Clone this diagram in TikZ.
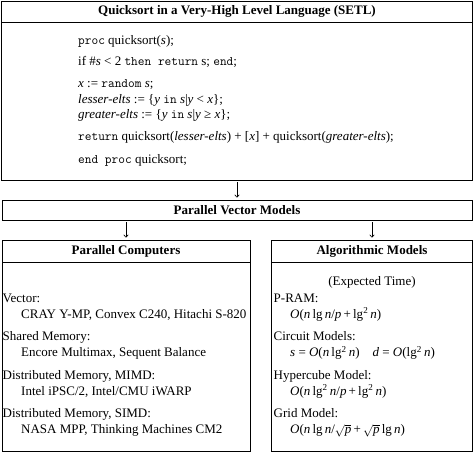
\documentclass[tikz,border=0pt]{standalone}
\usepackage{fontspec}
\setmainfont{Liberation Serif}
\usetikzlibrary{arrows.meta}

\newcommand{\diagsize}{\fontsize{13}{15.6}\selectfont}
\newcommand{\vi}[1]{\textit{#1}}
\newcommand{\sq}{lg\textsuperscript{2}\,}
\newcommand{\rootp}{\smash{$\sqrt{\mbox{\vi{p}}}$}}

\tikzset{
	box/.style={draw, line width=.9pt, inner sep=0pt},
	head/.style={box, font=\diagsize\bfseries},
	line/.style={anchor=base west, inner sep=0pt},
	arr/.style={-{To[length=3pt,width=5pt]}, line width=.6pt, shorten >=2pt, shorten <=2pt},
}

\begin{document}
\begin{tikzpicture}[x=1pt,y=-1pt,font=\diagsize]
		\useasboundingbox (0,0) rectangle (474,453);
		% top box
		\node[head, minimum width=471pt, minimum height=21pt] (setlhead) at (237,11.5) {Quicksort in a Very-High Level Language (SETL)};
		\node[box, minimum width=471pt, minimum height=158pt] (setl) at (237,101) {};
		\node[line] (proc) at (78,44) {\texttt{proc} quicksort(\vi{s});};
		\node[line] (iftest) at (78,65.7) {if \#\vi{s} < 2 \texttt{then return} s; \texttt{end};};
		\node[line] (pick) at (78,87.7) {\vi{x} := \texttt{random} \vi{s};};
		\node[line] (lesser) at (78,103.3) {\vi{lesser-elts} := \{\vi{y} \texttt{in} \vi{s}|\vi{y} < \vi{x}\};};
		\node[line] (greater) at (78,118.8) {\vi{greater-elts} := \{\vi{y} \texttt{in} \vi{s}|\vi{y} ≥ \vi{x}\};};
		\node[line] (ret) at (78,140.3) {\texttt{return} quicksort(\vi{lesser-elts}) + [\vi{x}] + quicksort(\vi{greater-elts});};
		\node[line] (endproc) at (78,163.3) {\texttt{end proc} quicksort;};
		% middle box
		\node[head, minimum width=470pt, minimum height=20pt] (pvm) at (237,210) {Parallel Vector Models};
		% lower boxes
		\node[head, minimum width=248pt, minimum height=22pt] (comphead) at (126,251) {Parallel Computers};
		\node[box, minimum width=248pt, minimum height=189pt] (comp) at (126,356.5) {};
		\node[head, minimum width=201pt, minimum height=22pt] (algohead) at (372,251) {Algorithmic Models};
		\node[box, minimum width=201pt, minimum height=189pt] (algo) at (372,356.5) {};
		% arrows
		\draw[arr] (setl.south) -- (pvm.north);
		\draw[arr] (pvm.south -| comphead.north) -- (comphead.north);
		\draw[arr] (pvm.south -| algohead.north) -- (algohead.north);
		% computers
		\node[line] (vec) at (2.5,302) {Vector:};
		\node[line] (vecm) at (21,318) {CRAY Y-MP, Convex C240, Hitachi S-820};
		\node[line] (shm) at (2.5,340.5) {Shared Memory:};
		\node[line] (shmm) at (21,356.5) {Encore Multimax, Sequent Balance};
		\node[line] (mimd) at (2.5,379) {Distributed Memory, MIMD:};
		\node[line] (mimdm) at (21,395) {Intel iPSC/2, Intel/CMU iWARP};
		\node[line] (simd) at (2.5,417.5) {Distributed Memory, SIMD:};
		\node[line] (simdm) at (21,433.5) {NASA MPP, Thinking Machines CM2};
		% models
		\node[anchor=base, inner sep=0pt] (exptime) at (372,285) {(Expected Time)};
		\node[line] (pram) at (273.5,302) {P-RAM:};
		\node[line] (pramf) at (290,318) {\vi{O}(\vi{n}\,lg\,\vi{n}/\vi{p}\,+\,\sq\vi{n})};
		\node[line] (circ) at (273.5,340.5) {Circuit Models:};
		\node[line] (circf) at (290,356.5) {\vi{s} = \vi{O}(\vi{n}\,\sq\vi{n})\quad\vi{d} = \vi{O}(\sq\vi{n})};
		\node[line] (hyp) at (273.5,379) {Hypercube Model:};
		\node[line] (hypf) at (290,395) {\vi{O}(\vi{n}\,\sq\vi{n}/\vi{p}\,+\,\sq\vi{n})};
		\node[line] (grid) at (273.5,417.5) {Grid Model:};
		\node[line] (gridf) at (290,433.5) {\vi{O}(\vi{n}\,lg\,\vi{n}/\rootp\,+\,\rootp\,lg\,\vi{n})};
	\end{tikzpicture}
\end{document}
